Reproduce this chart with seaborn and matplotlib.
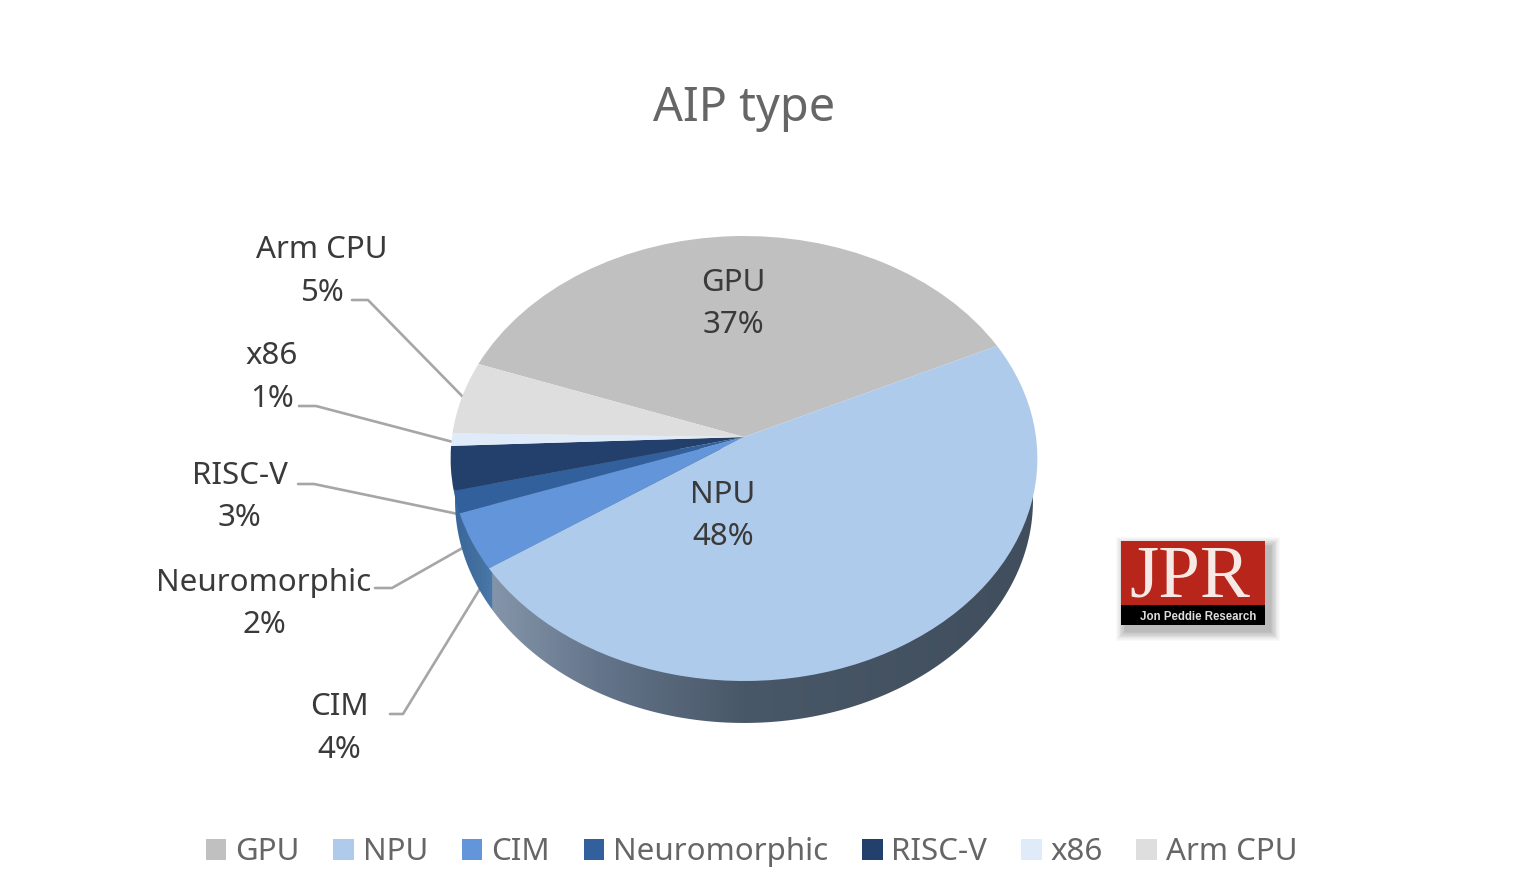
import numpy as np
import matplotlib
matplotlib.use("Agg")
import matplotlib.pyplot as plt
import seaborn as sns
from matplotlib.colors import LinearSegmentedColormap
from matplotlib.patches import Polygon, Rectangle
from matplotlib.transforms import Transform

categories = ["GPU", "NPU", "CIM", "Neuromorphic", "RISC-V", "x86", "Arm CPU"]
shares = [37.4, 47.6, 4.1, 1.6, 3.2, 0.9, 5.3]
slice_colors = ["#c0c0c0", "#afcbec", "#6295d9", "#31609c", "#233f6b", "#e0ebf9", "#dedede"]
title_text = "AIP type"

sns.set_theme(style="white")
FONT = "Noto Sans"
plt.rcParams["font.family"] = [FONT, "DejaVu Sans"]

W, H = 1531, 886
fig = plt.figure(figsize=(W / 100, H / 100), dpi=100, facecolor="white")
ax = fig.add_axes([0, 0, 1, 1])

# Perspective view of the unit disc, in pixel-like data units
CX, CY, A, B, K = 744.0, 437.0, 292.0, 220.4, 0.0966


def project(xy):
    xy = np.asarray(xy, dtype=float)
    w = 1 + K * xy[..., 1]
    return np.stack([CX + A * xy[..., 0] / w, CY - B * xy[..., 1] / w], axis=-1)


class TiltTransform(Transform):
    input_dims = 2
    output_dims = 2
    is_separable = False
    has_inverse = False

    def transform_non_affine(self, values):
        return project(values)


START = 160.0
wedges, _ = ax.pie(shares, colors=sns.color_palette(slice_colors), startangle=START,
                   counterclock=False, radius=1.0, wedgeprops=dict(linewidth=0))
tilt = TiltTransform()
for w in wedges:
    w.set_transform(tilt + ax.transData)
    w.set_zorder(3)
    w.set_antialiased(True)

# Side wall of the disc
theta = np.radians(np.linspace(172, 368, 300))
rim = project(np.stack([np.cos(theta), np.sin(theta)], axis=-1))
DEPTH, SHRINK = 42.0, 0.985
wall = np.column_stack([CX + (rim[:, 0] - CX) * SHRINK, rim[:, 1] + DEPTH])
wall_poly = Polygon(wall, closed=True, transform=ax.transData, facecolor="none", edgecolor="none")
ax.add_patch(wall_poly)

cum = np.cumsum(shares)
npu_end = np.radians(START - 3.6 * cum[1])
split_x = project(np.array([np.cos(npu_end), np.sin(npu_end)]))[0] + 4
xs = np.linspace(440, 1050, 611)
stops = [(440, "#35619b"), (480, "#44719f"), (split_x - 1, "#4a78ad"), (split_x, "#8595a9"),
         (600, "#64748a"), (744, "#495868"), (1050, "#3f4d5c")]
cmap = LinearSegmentedColormap.from_list(
    "wall", [((x - 440) / 610, c) for x, c in stops], N=1024)
img = ax.imshow(xs[None, :], extent=(440, 1050, 730, 440), aspect="auto", cmap=cmap, zorder=2)
img.set_clip_path(wall_poly)

# Labels
label_color = "#3a3a3a"
LABEL_SIZE = 22.5
TEXT_DY = 3
positions = {
    "GPU": (733, 280, 733, 322), "NPU": (723, 492, 723, 534),
    "CIM": (339, 704, 339, 747), "Neuromorphic": (264, 580, 264, 622),
    "RISC-V": (240, 473, 239, 515), "x86": (272, 353, 272, 396),
    "Arm CPU": (322, 247, 322, 290),
}
for name, share in zip(categories, shares):
    x1, y1, x2, y2 = positions[name]
    ax.text(x1, y1 + TEXT_DY, name, ha="center", va="center", fontsize=LABEL_SIZE, color=label_color, zorder=5)
    ax.text(x2, y2 + TEXT_DY, f"{round(share)}%", ha="center", va="center", fontsize=LABEL_SIZE,
            color=label_color, zorder=5)

leaders = [
    ([352, 368, 463], [300, 300, 397]),
    ([299, 316, 453], [406, 406, 442]),
    ([298, 314, 458], [484, 484, 514]),
    ([375, 392, 466], [588, 588, 546]),
    ([390, 403, 481], [714, 714, 587]),
]
for lx, ly in leaders:
    ax.plot(lx, ly, color="#a6a6a6", lw=1.9, zorder=1, solid_joinstyle="round")

ax.text(744, 108, title_text, ha="center", va="center", fontsize=33.7, color="#666666")

# Logo
for i in range(12, 0, -1):
    ax.add_patch(Rectangle((1121 + 5 - i * 0.8, 541 + 6 - i * 0.8), 144 + i * 1.6, 84 + i * 1.6,
                           facecolor="black", edgecolor="none", alpha=0.022, zorder=4))
ax.add_patch(Rectangle((1121, 541), 144, 64, facecolor="#b8251a", edgecolor="none", zorder=5))
ax.add_patch(Rectangle((1121, 605), 144, 20, facecolor="black", edgecolor="none", zorder=5))
ax.text(1190, 579, "JPR", ha="center", va="center", fontsize=54, color="#f7e9e6",
        family="Liberation Serif", zorder=6)
ax.text(1198, 616.5, "Jon Peddie Research", ha="center", va="center", fontsize=8.3, color="#dddddd",
        family="Liberation Sans", fontweight="bold", zorder=6)

# Legend
leg = ax.legend(wedges, categories, loc="center", bbox_to_anchor=(751.5, 852),
                bbox_transform=ax.transData, ncol=7, frameon=False, fontsize=LABEL_SIZE,
                handlelength=0.66, handleheight=0.66, handletextpad=0.28, columnspacing=1.08,
                borderpad=0, borderaxespad=0, labelcolor="#666666")

ax.set_aspect("auto")
ax.set_xlim(0, W)
ax.set_ylim(H, 0)
ax.axis("off")
fig.savefig("out.png", dpi=100, facecolor="white")
